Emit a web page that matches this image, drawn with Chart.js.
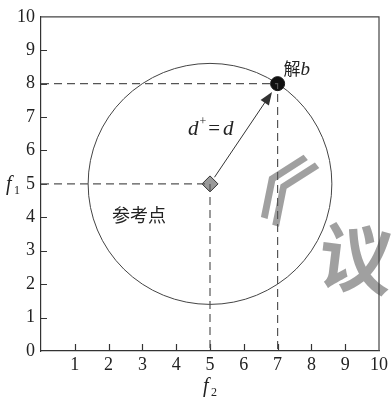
<!DOCTYPE html>
<html>
<head>
<meta charset="utf-8">
<script src="https://cdn.jsdelivr.net/npm/chart.js@4.4.0/dist/chart.umd.min.js"></script>
<style>
  html, body { margin: 0; padding: 0; background: #fff; }
  #wrap { width: 391px; height: 399px; }
</style>
</head>
<body>
<div id="wrap"><canvas id="chart"></canvas></div>
<script>
// data
const axisRange = [0, 10];
const tickStep = 1;
const refPoint = [5, 5];      // 参考点
const solPoint = [7, 8];      // 解b
const refLabel = '参考点';
const solLabel = ['解', 'b'];
const distLabel = ['d', '+', '=', 'd'];
const axisNames = [['f', '2'], ['f', '1']];

const serif = 'Liberation Serif';
const cjk = 'Noto Sans CJK SC';

// dashed guide lines from axes to each point
function guide(p) {
    return [{ x: axisRange[0], y: p[1] }, { x: p[0], y: p[1] }, { x: p[0], y: axisRange[0] }];
}

const extras = {
    id: 'extras',
    beforeDatasetsDraw(chart) {
        const { ctx, scales: { x, y }, chartArea } = chart;
        ctx.save();
        // circle centered on the reference point through the solution
        const r = Math.hypot(solPoint[0] - refPoint[0], solPoint[1] - refPoint[1]);
        const cx = x.getPixelForValue(refPoint[0]), cy = y.getPixelForValue(refPoint[1]);
        const rx = x.getPixelForValue(refPoint[0] + r) - cx;
        const ry = cy - y.getPixelForValue(refPoint[1] + r);
        ctx.strokeStyle = '#444';
        ctx.lineWidth = 1;
        ctx.beginPath();
        ctx.ellipse(cx, cy, rx, ry, 0, 0, Math.PI * 2);
        ctx.stroke();

        // grey watermark fragments
        ctx.fillStyle = 'rgba(155,155,155,0.95)';
        ctx.textAlign = 'center';
        ctx.textBaseline = 'middle';
        ctx.font = 'bold 74px "' + cjk + '"';
        ctx.save();
        ctx.translate(356, 258);
        ctx.rotate(0.12);
        ctx.fillText('议', 0, 0);
        ctx.restore();
        ctx.font = 'bold 80px "' + cjk + '"';
        ctx.save();
        ctx.translate(268, 176);
        ctx.rotate(0.6);
        ctx.fillText('《', 0, 0);
        ctx.restore();

        // inward ticks
        ctx.strokeStyle = '#333';
        ctx.lineWidth = 1.2;
        ctx.beginPath();
        x.ticks.forEach(t => {
            if (t.value <= axisRange[0] || t.value >= axisRange[1]) return;
            const px = Math.round(x.getPixelForValue(t.value)) + 0.5;
            ctx.moveTo(px, chartArea.bottom);
            ctx.lineTo(px, chartArea.bottom - 7);
        });
        y.ticks.forEach(t => {
            if (t.value <= axisRange[0] || t.value >= axisRange[1]) return;
            const py = Math.round(y.getPixelForValue(t.value)) + 0.5;
            ctx.moveTo(chartArea.left, py);
            ctx.lineTo(chartArea.left + 6, py);
        });
        ctx.stroke();

        // top and right frame
        ctx.strokeStyle = '#444';
        ctx.lineWidth = 1.2;
        ctx.beginPath();
        ctx.moveTo(chartArea.left, chartArea.top);
        ctx.lineTo(chartArea.right, chartArea.top);
        ctx.lineTo(chartArea.right, chartArea.bottom);
        ctx.stroke();
        ctx.restore();
    },
    afterDatasetsDraw(chart) {
        const { ctx, scales: { x, y } } = chart;
        ctx.save();
        // arrow from reference point to solution
        const x0 = x.getPixelForValue(refPoint[0]), y0 = y.getPixelForValue(refPoint[1]);
        const x1 = x.getPixelForValue(solPoint[0]), y1 = y.getPixelForValue(solPoint[1]);
        const len = Math.hypot(x1 - x0, y1 - y0);
        const ux = (x1 - x0) / len, uy = (y1 - y0) / len;
        const tx = x1 - ux * 10, ty = y1 - uy * 10;
        ctx.strokeStyle = '#333';
        ctx.fillStyle = '#333';
        ctx.lineWidth = 1;
        ctx.beginPath();
        ctx.moveTo(x0 + ux * 8, y0 + uy * 8);
        ctx.lineTo(tx - ux * 10, ty - uy * 10);
        ctx.stroke();
        ctx.beginPath();
        ctx.moveTo(tx, ty);
        ctx.lineTo(tx - ux * 13 - uy * 5, ty - uy * 13 + ux * 5);
        ctx.lineTo(tx - ux * 13 + uy * 5, ty - uy * 13 - ux * 5);
        ctx.closePath();
        ctx.fill();

        ctx.fillStyle = '#222';
        ctx.textBaseline = 'alphabetic';
        ctx.textAlign = 'left';

        // 解b
        ctx.font = '17px "' + cjk + '"';
        ctx.fillText(solLabel[0], x1 + 6, y1 - 9);
        let w = ctx.measureText(solLabel[0]).width;
        ctx.font = 'italic 19px "' + serif + '"';
        ctx.fillText(solLabel[1], x1 + 6 + w, y1 - 9);

        // d+=d
        let px = 188, base = 135;
        ctx.font = 'italic 21px "' + serif + '"';
        ctx.fillText(distLabel[0], px, base);
        px += ctx.measureText(distLabel[0]).width + 1;
        ctx.font = '12px "' + serif + '"';
        ctx.fillText(distLabel[1], px, base - 10);
        px += ctx.measureText(distLabel[1]).width + 2;
        ctx.font = '21px "' + serif + '"';
        ctx.fillText(distLabel[2], px, base);
        px += ctx.measureText(distLabel[2]).width + 3;
        ctx.font = 'italic 21px "' + serif + '"';
        ctx.fillText(distLabel[3], px, base);

        // 参考点
        ctx.font = '18px "' + cjk + '"';
        ctx.textAlign = 'center';
        ctx.fillText(refLabel, 139, 222);

        // axis names
        ctx.textAlign = 'left';
        const fx = x.getPixelForValue(refPoint[0]);
        ctx.font = 'italic 20px "' + serif + '"';
        ctx.fillText(axisNames[0][0], fx - 7, 392);
        ctx.font = '12px "' + serif + '"';
        ctx.fillText(axisNames[0][1], fx + 1, 396);
        const fy = y.getPixelForValue(refPoint[1]);
        ctx.font = 'italic 20px "' + serif + '"';
        ctx.fillText(axisNames[1][0], 6, fy + 6);
        ctx.font = '12px "' + serif + '"';
        ctx.fillText(axisNames[1][1], 14, fy + 10);
        ctx.restore();
    }
};

const tickFont = { family: "'Liberation Serif'", size: 18 };

new Chart(document.getElementById('chart'), {
    type: 'scatter',
    data: {
        datasets: [
            {
                type: 'line',
                data: guide(solPoint),
                borderColor: '#555',
                borderWidth: 1.2,
                borderDash: [8, 5],
                pointRadius: 0,
                fill: false
            },
            {
                type: 'line',
                data: guide(refPoint),
                borderColor: '#555',
                borderWidth: 1.2,
                borderDash: [8, 5],
                pointRadius: 0,
                fill: false
            },
            {
                data: [{ x: refPoint[0], y: refPoint[1] }],
                pointStyle: 'rectRot',
                pointRadius: 8,
                backgroundColor: '#9a9a9a',
                borderColor: '#333',
                borderWidth: 1
            },
            {
                data: [{ x: solPoint[0], y: solPoint[1] }],
                pointStyle: 'circle',
                pointRadius: 7,
                backgroundColor: '#111',
                borderColor: '#111',
                borderWidth: 1
            }
        ]
    },
    options: {
        responsive: true,
        maintainAspectRatio: false,
        animation: false,
        layout: { padding: { top: 12, right: 10, left: 0, bottom: 0 } },
        plugins: { legend: { display: false }, tooltip: { enabled: false } },
        scales: {
            x: {
                type: 'linear',
                min: axisRange[0],
                max: axisRange[1],
                ticks: {
                    stepSize: tickStep,
                    font: tickFont,
                    color: '#222',
                    padding: 3,
                    maxRotation: 0,
                    callback: v => v === axisRange[0] ? '' : v
                },
                grid: { display: false, drawTicks: false },
                border: { display: true, color: '#333', width: 1.2 },
                afterFit: s => { s.height = 48; }
            },
            y: {
                type: 'linear',
                min: axisRange[0],
                max: axisRange[1],
                ticks: {
                    stepSize: tickStep,
                    font: tickFont,
                    color: '#222',
                    padding: 6
                },
                grid: { display: false, drawTicks: false },
                border: { display: true, color: '#333', width: 1.2 },
                afterFit: s => { s.width = 41; }
            }
        }
    },
    plugins: [extras]
});
</script>
</body>
</html>
